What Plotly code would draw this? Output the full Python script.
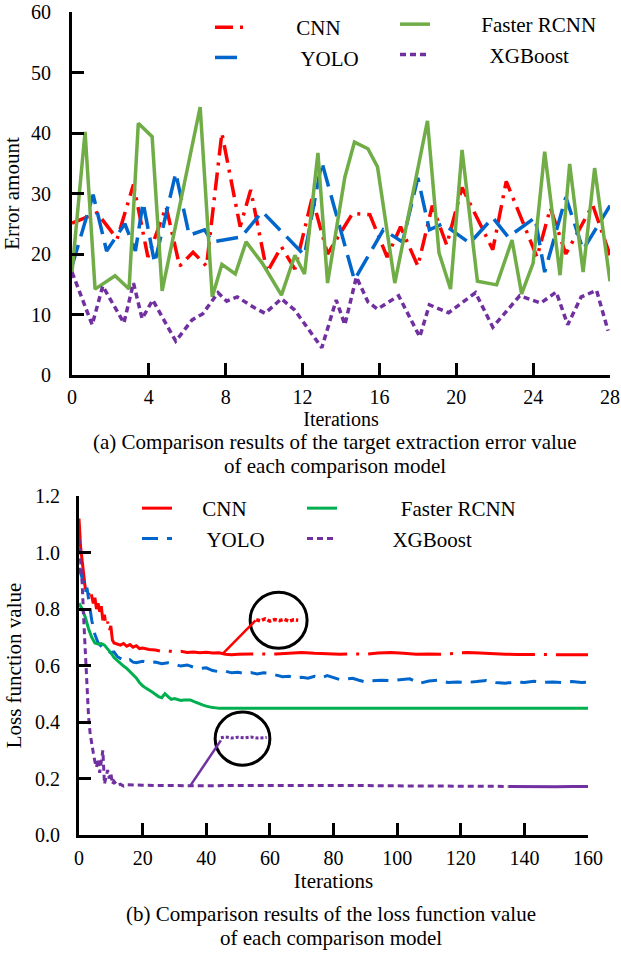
import plotly.graph_objects as go

# ---------------- data: (a) target extraction error ----------------
a_ticks = [0, 4, 8, 12, 16, 20, 24, 28]

cnn_err_x = [0, 1.3, 2.35, 3.2, 3.95, 4.9, 5.6, 6.3, 7.0, 7.8, 8.75, 9.3, 10.15, 10.9, 11.6, 12.5,
             13.3, 14.6, 15.5, 16.4, 17.1, 18.0, 18.75, 19.5, 20.3, 21.9, 22.6, 24.2, 24.9, 25.7, 27.1, 28.0]
cnn_err_y = [25.1, 26.8, 22.5, 31.5, 19.5, 27.8, 18.0, 20.3, 18.0, 40.0, 24.5, 30.6, 17.0, 21.2, 17.5, 29.3,
             20.0, 26.7, 26.5, 19.5, 24.5, 18.0, 28.0, 21.5, 31.0, 20.7, 32.0, 19.5, 27.6, 20.0, 28.1, 19.8]

yolo_err_x = [0, 1.1, 1.8, 2.75, 3.3, 3.7, 4.3, 5.4, 6.1, 6.9, 7.3, 8.8, 9.9, 11.1, 12.1, 13.0, 14.7,
              16.2, 17.2, 18.0, 18.6, 19.3, 20.7, 21.9, 22.7, 24.1, 24.6, 25.7, 26.6, 28.0]
yolo_err_y = [18, 29.8, 20.5, 25, 20.5, 28.5, 18.5, 33.4, 23.1, 24, 22, 22.8, 27, 23.1, 19.8, 35.2, 15.7,
              24, 22, 32.6, 24, 25, 21.8, 26, 22.8, 26, 17, 29.4, 20.7, 28]

frcnn_err_x = [0, 0.68, 1.2, 2.24, 2.97, 3.45, 4.17, 4.69, 6.67, 7.3, 7.8, 8.5, 9.06, 9.5, 9.9, 10.9, 11.6,
               12.1, 12.8, 13.3, 14.2, 14.7, 15.4, 15.9, 16.8, 18.5, 19.1, 19.7, 20.3, 21.1, 22.1, 22.9,
               23.4, 24.0, 24.6, 25.4, 25.9, 26.6, 27.2, 28.0]
frcnn_err_y = [17, 40.2, 14.2, 16.4, 14.2, 41.6, 39.4, 13.9, 44.3, 12.9, 18.3, 16.7, 22.0, 20.2, 18.5, 13.2,
               19.8, 16.7, 36.7, 15.2, 32.7, 38.5, 37.4, 34.4, 15.2, 42.0, 20.2, 14.2, 37.2, 15.5, 14.9,
               22.3, 13.4, 18.5, 36.9, 16.5, 34.9, 17.0, 34.2, 15.5]

xgb_err_x = [0, 1.05, 1.6, 2.7, 3.2, 3.65, 4.2, 5.4, 6.25, 6.8, 7.6, 8.05, 8.6, 9.5, 10.05, 10.9, 11.6,
             13.0, 13.75, 14.2, 14.8, 15.4, 15.9, 17.0, 18.1, 18.6, 19.6, 21.0, 21.9, 23.3, 24.4, 25.2,
             25.8, 26.5, 27.3, 27.9]
xgb_err_y = [17, 8.3, 14.7, 8.6, 15.2, 9.3, 12.4, 5.6, 9.1, 10.1, 13.6, 12.2, 12.9, 11.1, 10.2, 12.6, 10.7,
             4.5, 12.4, 8.3, 16.2, 12.1, 10.9, 13.1, 6.3, 11.6, 10.3, 13.6, 7.9, 13.1, 11.9, 13.7,
             8.3, 12.9, 14.0, 7.3]

# ---------------- data: (b) loss function value ----------------
b_ticks = [0, 20, 40, 60, 80, 100, 120, 140, 160]

cnn_loss_x = [0, 0.5, 1, 1.5, 2, 2.5, 3, 3.5, 4, 4.5, 5, 5.5, 6, 6.5, 7, 7.5, 8, 8.5, 9, 9.5, 10, 10.5, 11,
              12, 13, 14, 15, 16, 17, 18, 19, 20, 22, 24, 26, 28, 30, 32, 34, 36, 38, 40, 42, 44, 46, 48,
              50, 54, 58, 62, 66, 70, 74, 78, 82, 86, 90, 94, 98, 102, 106, 110, 114, 118, 122, 126,
              130, 134, 138, 142, 146, 150, 154, 158, 160]
cnn_loss_y = [1.12, 1.02, 0.97, 0.92, 0.87, 0.88, 0.85, 0.87, 0.84, 0.82, 0.84, 0.80, 0.82, 0.79, 0.81,
              0.76, 0.78, 0.74, 0.755, 0.72, 0.74, 0.69, 0.68, 0.675, 0.672, 0.678, 0.668, 0.674, 0.665,
              0.67, 0.66, 0.662, 0.657, 0.655, 0.65, 0.652, 0.648, 0.65, 0.646, 0.648, 0.645, 0.647,
              0.644, 0.645, 0.64, 0.638, 0.64, 0.641, 0.64, 0.641, 0.643, 0.646, 0.643, 0.641, 0.64,
              0.641, 0.64, 0.644, 0.646, 0.643, 0.64, 0.641, 0.64, 0.643, 0.646, 0.644, 0.641, 0.64,
              0.639, 0.64, 0.639, 0.638, 0.639, 0.638, 0.638]

yolo_loss_x = [0, 0.5, 1, 1.5, 2, 2.5, 3, 3.5, 4, 5, 6, 7, 8, 9, 10, 11, 12, 13, 14, 15, 16, 17, 18, 20,
               22, 24, 26, 28, 30, 32, 34, 36, 38, 40, 42, 44, 46, 48, 50, 52, 54, 56, 58, 60, 62, 64,
               66, 68, 70, 72, 74, 76, 78, 80, 82, 84, 86, 88, 90, 92, 95, 98, 101, 104, 107, 110, 113,
               116, 119, 122, 125, 128, 131, 134, 137, 140, 143, 146, 149, 152, 155, 158, 160]
yolo_loss_y = [0.945, 0.93, 0.91, 0.89, 0.86, 0.875, 0.84, 0.8, 0.76, 0.71, 0.68, 0.668, 0.655, 0.652,
               0.645, 0.648, 0.632, 0.625, 0.62, 0.614, 0.62, 0.612, 0.61, 0.615, 0.61, 0.612, 0.606,
               0.61, 0.605, 0.598, 0.602, 0.594, 0.59, 0.592, 0.582, 0.578, 0.58, 0.574, 0.576, 0.572,
               0.575, 0.57, 0.574, 0.572, 0.566, 0.56, 0.562, 0.556, 0.558, 0.555, 0.562, 0.556, 0.564,
               0.558, 0.55, 0.552, 0.555, 0.548, 0.542, 0.546, 0.548, 0.547, 0.55, 0.553, 0.537, 0.545,
               0.548, 0.54, 0.542, 0.54, 0.543, 0.547, 0.54, 0.537, 0.542, 0.54, 0.544, 0.54, 0.542,
               0.539, 0.543, 0.54, 0.541]

frcnn_loss_x = [0, 1, 2, 3, 4, 5, 6, 7, 8, 9, 10, 11, 12, 13, 14, 15, 16, 17, 18, 19, 20, 21, 22, 23, 24,
                25, 26, 27, 28, 29, 30, 31, 32, 33, 34, 35, 36, 37, 38, 39, 40, 41, 42, 43, 44, 50, 60,
                80, 100, 120, 140, 160]
frcnn_loss_y = [0.82, 0.80, 0.77, 0.73, 0.70, 0.68, 0.676, 0.678, 0.672, 0.66, 0.645, 0.628, 0.618,
                0.606, 0.598, 0.59, 0.578, 0.566, 0.556, 0.54, 0.528, 0.52, 0.514, 0.506, 0.498, 0.49,
                0.486, 0.50, 0.49, 0.48, 0.483, 0.479, 0.476, 0.478, 0.477, 0.478, 0.473, 0.468, 0.463,
                0.46, 0.456, 0.453, 0.451, 0.45, 0.449, 0.449, 0.449, 0.449, 0.449, 0.449, 0.449, 0.449]

xgb_loss_x = [0, 0.5, 1, 1.5, 2, 2.5, 3, 3.5, 4, 4.5, 5, 5.5, 6, 6.5, 7, 7.5, 8, 8.5, 9, 9.5, 10, 10.5,
              11, 12, 13, 14, 15, 20, 25, 30, 35, 40, 45, 50, 55, 60, 65, 70, 75, 80, 90, 100, 110, 120,
              130, 135]
xgb_loss_y = [1.05, 0.97, 0.89, 0.76, 0.63, 0.52, 0.42, 0.36, 0.32, 0.29, 0.26, 0.24, 0.27, 0.22, 0.26,
              0.30, 0.18, 0.21, 0.23, 0.2, 0.22, 0.18, 0.19, 0.175, 0.18, 0.173, 0.178, 0.176, 0.175,
              0.175, 0.174, 0.174, 0.175, 0.175, 0.176, 0.176, 0.177, 0.176, 0.175, 0.175, 0.175,
              0.174, 0.173, 0.173, 0.172, 0.172]
xgb_tail_x = [135, 140, 145, 150, 155, 160]
xgb_tail_y = [0.172, 0.171, 0.172, 0.171, 0.172, 0.172]

# magnified insets
cnn_zoom_x = [55.7, 57, 58.5, 60, 61.5, 63, 64.5, 66, 67.5, 68.9]
cnn_zoom_y = [0.762, 0.758, 0.765, 0.757, 0.763, 0.759, 0.764, 0.757, 0.762, 0.76]
xgb_zoom_x = [44.6, 46, 48, 50, 52, 54, 56, 58, 59]
xgb_zoom_y = [0.344, 0.347, 0.343, 0.346, 0.344, 0.347, 0.343, 0.346, 0.345]

# ---------------- styling ----------------
RED = "#ff0000"
BLUE = "#0066cc"
GREEN_A = "#70ad47"
GREEN_B = "#00b050"
PURPLE = "#7030a0"
FONT = "Liberation Serif, Times New Roman, serif"
W, H = 621, 954
EM = "\u2003"
THIN = "\u2009"

fig = go.Figure()

# (a)
fig.add_trace(go.Scatter(x=cnn_err_x, y=cnn_err_y, mode="lines", name=EM * 2 + THIN + "CNN",
                         line=dict(color=RED, width=3.5, dash="18px,7px,3px,7px"),
                         xaxis="x", yaxis="y", legend="legend"))
fig.add_trace(go.Scatter(x=yolo_err_x, y=yolo_err_y, mode="lines", name=EM * 2 + THIN * 2 + "YOLO",
                         line=dict(color=BLUE, width=3.5, dash="22px,9px"),
                         xaxis="x", yaxis="y", legend="legend"))
fig.add_trace(go.Scatter(x=frcnn_err_x, y=frcnn_err_y, mode="lines", name=EM * 2 + THIN + "Faster RCNN",
                         line=dict(color=GREEN_A, width=3.5),
                         xaxis="x", yaxis="y", legend="legend2"))
fig.add_trace(go.Scatter(x=xgb_err_x, y=xgb_err_y, mode="lines", name=EM * 2 + THIN * 3 + "XGBoost",
                         line=dict(color=PURPLE, width=3.5, dash="6px,4px"),
                         xaxis="x", yaxis="y", legend="legend2"))

# (b)
fig.add_trace(go.Scatter(x=cnn_loss_x, y=cnn_loss_y, mode="lines", name=EM + THIN + "CNN",
                         line=dict(color=RED, width=3, dash="73px,9px,3px,9px"),
                         xaxis="x2", yaxis="y2", legend="legend3"))
fig.add_trace(go.Scatter(x=yolo_loss_x, y=yolo_loss_y, mode="lines", name=EM + THIN * 2 + "YOLO",
                         line=dict(color=BLUE, width=3, dash="16px,9px"),
                         xaxis="x2", yaxis="y2", legend="legend3"))
fig.add_trace(go.Scatter(x=frcnn_loss_x, y=frcnn_loss_y, mode="lines", name=EM * 2 + THIN * 4 + "Faster RCNN",
                         line=dict(color=GREEN_B, width=3),
                         xaxis="x2", yaxis="y2", legend="legend4"))
fig.add_trace(go.Scatter(x=xgb_loss_x, y=xgb_loss_y, mode="lines", name=EM * 2 + THIN * 2 + "XGBoost",
                         line=dict(color=PURPLE, width=3, dash="6px,4px"),
                         xaxis="x2", yaxis="y2", legend="legend4"))
fig.add_trace(go.Scatter(x=xgb_tail_x, y=xgb_tail_y, mode="lines", showlegend=False,
                         line=dict(color=PURPLE, width=3), xaxis="x2", yaxis="y2"))
fig.add_trace(go.Scatter(x=cnn_zoom_x, y=cnn_zoom_y, mode="lines", showlegend=False,
                         line=dict(color=RED, width=3.5, dash="4px,2px"), xaxis="x2", yaxis="y2"))
fig.add_trace(go.Scatter(x=xgb_zoom_x, y=xgb_zoom_y, mode="lines", showlegend=False,
                         line=dict(color=PURPLE, width=3, dash="3px,2px"), xaxis="x2", yaxis="y2"))

def px_x(p):
    return p / W

def px_y(p):
    return 1 - p / H

axis_common = dict(showline=True, linewidth=3, linecolor="black", ticks="inside", ticklen=12,
                   tickwidth=3, tickcolor="black", showgrid=False, zeroline=False, mirror=False,
                   tickfont=dict(family=FONT, size=20, color="black"), automargin=False)

legend_common = dict(xanchor="left", yanchor="top", bgcolor="rgba(0,0,0,0)",
                     font=dict(family=FONT, size=21, color="black"), itemwidth=30, tracegroupgap=0)

fig.update_layout(
    width=W, height=H, margin=dict(l=0, r=0, t=0, b=0),
    paper_bgcolor="white", plot_bgcolor="white",
    font=dict(family=FONT, size=20, color="black"),
    xaxis=dict(domain=[px_x(72), px_x(610)], range=[0, 28], tickvals=a_ticks, anchor="y",
               title=dict(text="Iterations", font=dict(family=FONT, size=20), standoff=0),
               ticklabelstandoff=2, **axis_common),
    yaxis=dict(domain=[px_y(375), px_y(12)], range=[0, 60], dtick=10, anchor="x",
               title=dict(text="Error amount", font=dict(family=FONT, size=21), standoff=8),
               ticklabelstandoff=14, **axis_common),
    xaxis2=dict(domain=[px_x(79), px_x(588)], range=[0, 160], tickvals=b_ticks, anchor="y2",
                title=dict(text="Iterations", font=dict(family=FONT, size=21), standoff=1),
                ticklabelstandoff=3, **axis_common),
    yaxis2=dict(domain=[px_y(835), px_y(496)], range=[0, 1.2], dtick=0.2, tickformat=".1f", anchor="x2",
                title=dict(text="Loss function value", font=dict(family=FONT, size=21), standoff=8),
                ticklabelstandoff=12, **axis_common),
    legend=dict(x=px_x(210), y=px_y(7), **legend_common),
    legend2=dict(x=px_x(395), y=px_y(4), **legend_common),
    legend3=dict(x=px_x(137), y=px_y(488), **legend_common),
    legend4=dict(x=px_x(302), y=px_y(488), **legend_common),
)

# magnifier circles and leader lines (decorations, in data units of panel b)
fig.add_shape(type="circle", xref="x2", yref="y2", x0=53.8, x1=71.7, y0=0.661, y1=0.859,
              line=dict(color="black", width=3))
fig.add_shape(type="line", xref="x2", yref="y2", x0=45.3, y0=0.643, x1=55.5, y1=0.76,
              line=dict(color=RED, width=2.5))
fig.add_shape(type="circle", xref="x2", yref="y2", x0=42.8, x1=60.0, y0=0.247, y1=0.435,
              line=dict(color="black", width=3))
fig.add_shape(type="line", xref="x2", yref="y2", x0=34.9, y0=0.173, x1=44.6, y1=0.335,
              line=dict(color=PURPLE, width=2.5))

captions = [
    ("(a) Comparison results of the target extraction error value", 335, 442),
    ("of each comparison model", 335, 466),
    ("(b) Comparison results of the loss function value", 331, 914),
    ("of each comparison model", 331, 938),
]
for txt, cx, cy in captions:
    fig.add_annotation(text=txt, xref="paper", yref="paper", x=px_x(cx), y=px_y(cy),
                       xanchor="center", yanchor="middle", showarrow=False,
                       font=dict(family=FONT, size=21, color="black"))

fig.write_html("out.html")
